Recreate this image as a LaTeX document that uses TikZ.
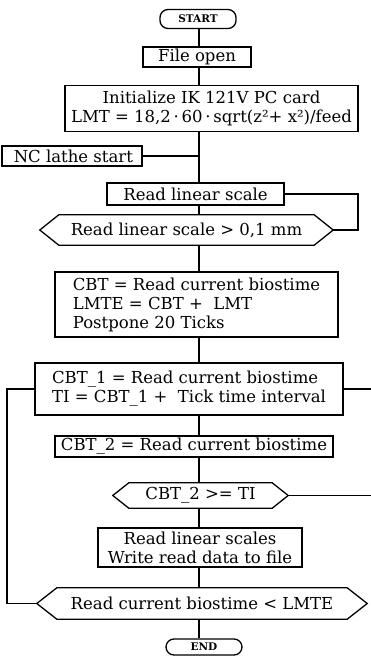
\documentclass[tikz,border=0pt]{standalone}
\usepackage{fontspec}
\setmainfont{DejaVu Serif}
\usetikzlibrary{calc}
\newcommand{\mfnt}{\fontsize{16.5}{19}\selectfont}
\newcommand{\hexa}[2]{\draw[conn] (#1.west) -- ([xshift=#2pt]#1.north west) -- ([xshift=-#2pt]#1.north east) -- (#1.east) -- ([xshift=-#2pt]#1.south east) -- ([xshift=#2pt]#1.south west) -- cycle;}
\tikzset{
  conn/.style={line width=1.3pt, line join=miter},
  box/.style={draw, line width=1.3pt, inner sep=0pt, font=\mfnt},
  term/.style={draw, line width=1.3pt, rounded corners=8pt, inner sep=0pt, font=\fontsize{10.5}{11}\selectfont\bfseries},
  dec/.style={inner sep=0pt, font=\mfnt}
}
\begin{document}
\begin{tikzpicture}[x=1pt,y=-1pt]
\useasboundingbox (0,0) rectangle (371,659);
\coordinate (ax) at (199,0);
\coordinate (rx) at (358,0);
\coordinate (lx) at (7,0);
\coordinate (ex) at (371,0);

\node[term, minimum width=76pt, minimum height=19pt] (start) at (198,19) {START};
\node[box, minimum width=108pt, minimum height=20pt] (fo) at (197,57) {File open};
\node[box, minimum width=293pt, minimum height=46pt, align=center] (init) at (211.5,108.5) {Initialize IK 121V PC card\\LMT = 18,2\,·\,60\,·\,sqrt(z²+ x²)/feed};
\node[box, minimum width=140pt, minimum height=20pt, align=left] (nc) at (72,156) {\,NC lathe start\hfill};
\node[box, minimum width=177pt, minimum height=22pt] (rls) at (195.5,194) {Read linear scale};
\node[dec, minimum width=293pt, minimum height=30pt] (d1) at (186.5,230) {Read linear scale > 0,1 mm};
\node[box, minimum width=283pt, minimum height=65pt, align=left] (cbt) at (196.5,304.5) {CBT = Read current biostime\\LMTE = CBT +\ \ LMT\\Postpone 20 Ticks};
\node[box, minimum width=308pt, minimum height=52pt, align=left] (cbt1) at (189,389) {CBT\_1 = Read current biostime\\TI = CBT\_1 +\ \ Tick time interval};
\node[box, minimum width=278pt, minimum height=21pt] (cbt2) at (194,446.5) {CBT\_2 = Read current biostime};
\node[dec, minimum width=175pt, minimum height=25pt] (d2) at (200.5,495.5) {CBT\_2 >= TI};
\node[box, minimum width=204pt, minimum height=39pt, align=center] (rls2) at (200,547.5) {Read linear scales\\Write read data to file};
\node[dec, minimum width=330pt, minimum height=31pt] (d3) at (202,603.5) {Read current biostime < LMTE};
\node[term, minimum width=76pt, minimum height=16pt] (end) at (204,647) {END};

\hexa{d1}{19}
\hexa{d2}{16}
\hexa{d3}{20}

\draw[conn] (start.south -| ax) -- (fo.north -| ax);
\draw[conn] (fo.south -| ax) -- (init.north -| ax);
\draw[conn] (init.south -| ax) -- (rls.north -| ax);
\draw[conn] (nc.east) -- (nc.east -| ax);
\draw[conn] (rls.south -| ax) -- (d1.north -| ax);
\draw[conn] (rls.east) -- (rls.east -| rx) -- (d1.east -| rx) -- (d1.east);
\draw[conn] (d1.south -| ax) -- (cbt.north -| ax);
\draw[conn] (cbt.south -| ax) -- (cbt1.north -| ax);
\draw[conn] (cbt1.south -| ax) -- (cbt2.north -| ax);
\draw[conn] (cbt2.south -| ax) -- (d2.north -| ax);
\draw[conn] (d2.east) -- (d2.east -| ex);
\draw[conn] (cbt1.east) -- (cbt1.east -| ex);
\draw[conn] (d2.south -| ax) -- (rls2.north -| ax);
\draw[conn] (rls2.south -| ax) -- (d3.north -| ax);
\draw[conn] (d3.west) -- (d3.west -| lx) -- (cbt1.west -| lx) -- (cbt1.west);
\draw[conn] (d3.south -| ax) -- (end.north -| ax);
\end{tikzpicture}
\end{document}
